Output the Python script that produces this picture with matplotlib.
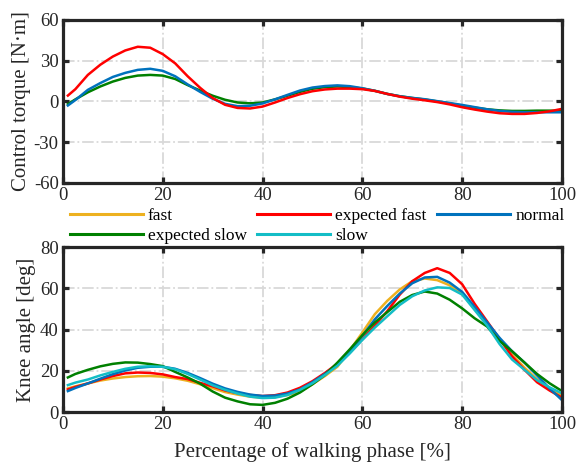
import numpy as np
import matplotlib.pyplot as plt

plt.rcParams['font.family'] = ['Liberation Serif', 'DejaVu Serif']
plt.rcParams['axes.unicode_minus'] = False

# percentage of walking phase
phase = [1] + [2.5 * i for i in range(1, 41)]

# control torque [N*m]
torque_exp_fast = [4.3, 9, 19.5, 27, 33, 37.5, 40.2, 39.5, 34.8, 28, 18.5, 10, 2.5, -2.5, -4.8, -5.2,
                   -3.8, -0.8, 2.5, 5.3, 7.5, 8.8, 9.4, 9.4, 9, 7.7, 5.5, 3.5, 2, 0.8, -0.5, -2.2,
                   -4.3, -6, -7.5, -8.7, -9.2, -9.2, -8.5, -7.3, -5.5]
torque_normal = [-3, 1, 8.5, 13.5, 18, 21, 23.2, 24, 22.5, 18.5, 12.5, 7, 2, -1.8, -3.5, -3.2,
                 -1.5, 1.5, 4.8, 8, 10.2, 11.3, 11.8, 11.2, 9.7, 7.8, 5.5, 3.8, 2.6, 1.6, 0.2, -1.2,
                 -2.6, -4.2, -5.8, -7, -7.7, -8, -8, -8, -8]
torque_exp_slow = [-2, 1.5, 6.7, 11, 14.6, 17.3, 19, 19.5, 19, 16.5, 12, 8, 4.2, 1.2, -0.8, -1.4,
                   -0.8, 1.5, 4.2, 7, 9.3, 10.5, 11, 10.5, 9.5, 7.8, 5.5, 3.8, 2.5, 1.4, 0, -1.5,
                   -3.2, -4.6, -5.8, -6.6, -7, -7, -6.8, -6.8, -7]

# knee angle [deg]
knee_fast = [11.5, 12.5, 13.9, 15.3, 16.3, 17, 17.4, 17.5, 17.2, 16.4, 15.2, 13.5, 11.6, 9.7, 8.5, 7.5,
             7, 7.3, 8.3, 9.9, 13.5, 17.5, 22, 30, 38.6, 47.5, 54, 59.5, 63.5, 64.8, 64, 61.5,
             57.5, 50, 42.5, 35, 28, 21.5, 16, 11.5, 8]
knee_exp_fast = [11, 12.2, 13.9, 15.8, 17.5, 18.8, 19.2, 19, 18.3, 17, 16, 14.2, 12.5, 10.5, 9.2, 8.3,
                 7.8, 8.2, 9.5, 11.8, 15, 19, 23.5, 29, 35.3, 42, 49, 57, 63.5, 67.5, 69.8, 67.5,
                 62, 52.5, 44, 35.5, 27, 20.5, 14.5, 10.5, 7]
knee_normal = [10.2, 11.7, 13.9, 16.2, 18.4, 20.2, 21.5, 22, 22, 21, 19, 16.5, 13.8, 11.5, 9.8, 8.5,
               7.8, 8, 9, 11, 14.5, 18.5, 23, 29.5, 37, 45, 51.5, 57.5, 62.5, 65.3, 65.6, 62.8,
               58.3, 51, 43.5, 36, 29.5, 24, 17.8, 11.5, 5.8]
knee_exp_slow = [16.8, 18.5, 20.5, 22.2, 23.4, 24.1, 24, 23.3, 22.3, 19.5, 16.8, 13.8, 10, 7, 5.2, 3.8,
                 3.5, 4.5, 6.5, 9.5, 13.5, 18, 24, 30.5, 37.3, 43.5, 48.5, 53.5, 56.8, 58.5, 57.5, 54.5,
                 50.3, 45.5, 41.5, 34.5, 29.5, 24, 18.5, 14, 10.2]
knee_slow = [13.1, 14.3, 15.8, 17.8, 19.5, 21, 22, 22.2, 22, 20.8, 18.5, 15.8, 13, 10.8, 9, 7.5,
             6.8, 7, 8.3, 10.8, 14, 18, 22.5, 28.5, 35, 41, 46.5, 52, 56.2, 59, 60.5, 60.2,
             57, 49.5, 42, 33, 25.5, 20.5, 15.5, 12, 9.1]

c_fast = '#EDB120'
c_exp_fast = '#FF0000'
c_normal = '#0072BD'
c_exp_slow = '#008000'
c_slow = '#13BDC6'
lw = 1.8
dark = '#262626'

fig = plt.figure(figsize=(5.77, 4.62), dpi=100)
ax1 = fig.add_axes([0.109, 0.604, 0.865, 0.353])
ax2 = fig.add_axes([0.109, 0.108, 0.865, 0.357])


def style(ax):
    for s in ax.spines.values():
        s.set_linewidth(2.3)
        s.set_color(dark)
    ax.tick_params(direction='in', length=4, width=2.3, top=True, right=True,
                   labelsize=13.5, colors=dark, pad=3)
    ax.grid(True, color='#d9d9d9', linestyle='-.', linewidth=1.3)
    ax.set_xlim(0, 100)
    ax.set_xticks([0, 20, 40, 60, 80, 100])


ax1.plot(phase, torque_exp_slow, color=c_exp_slow, lw=lw, solid_joinstyle='round')
ax1.plot(phase, torque_normal, color=c_normal, lw=lw, solid_joinstyle='round')
ax1.plot(phase, torque_exp_fast, color=c_exp_fast, lw=lw, solid_joinstyle='round')
style(ax1)
ax1.set_ylim(-60, 60)
ax1.set_yticks([-60, -30, 0, 30, 60])
ax1.set_ylabel('Control torque [N·m]', fontsize=15, color=dark, labelpad=2)

h_fast, = ax2.plot(phase, knee_fast, color=c_fast, lw=lw, solid_joinstyle='round')
h_exp_fast, = ax2.plot(phase, knee_exp_fast, color=c_exp_fast, lw=lw, solid_joinstyle='round')
h_normal, = ax2.plot(phase, knee_normal, color=c_normal, lw=lw, solid_joinstyle='round')
h_exp_slow, = ax2.plot(phase, knee_exp_slow, color=c_exp_slow, lw=lw, solid_joinstyle='round')
h_slow, = ax2.plot(phase, knee_slow, color=c_slow, lw=lw, solid_joinstyle='round')
style(ax2)
ax2.set_ylim(0, 80)
ax2.set_yticks([0, 20, 40, 60, 80])
ax2.set_ylabel('Knee angle [deg]', fontsize=15, color=dark, labelpad=3)
ax2.set_xlabel('Percentage of walking phase [%]', fontsize=15, color=dark, labelpad=6)

# legend filled column-wise, so reorder to read fast/expected fast/normal on row 1
handles = [h_fast, h_exp_slow, h_exp_fast, h_slow, h_normal]
labels = ['fast', 'expected slow', 'expected fast', 'slow', 'normal']
leg = fig.legend(handles, labels, ncol=3, loc='upper left', bbox_to_anchor=(0.121, 0.551),
                 frameon=False, fontsize=12.5, handlelength=4.2, handletextpad=0.3,
                 columnspacing=0.6, labelspacing=0.25, borderpad=0, borderaxespad=0)
for line in leg.get_lines():
    line.set_linewidth(2.2)

fig.savefig('out.png', dpi=100)
